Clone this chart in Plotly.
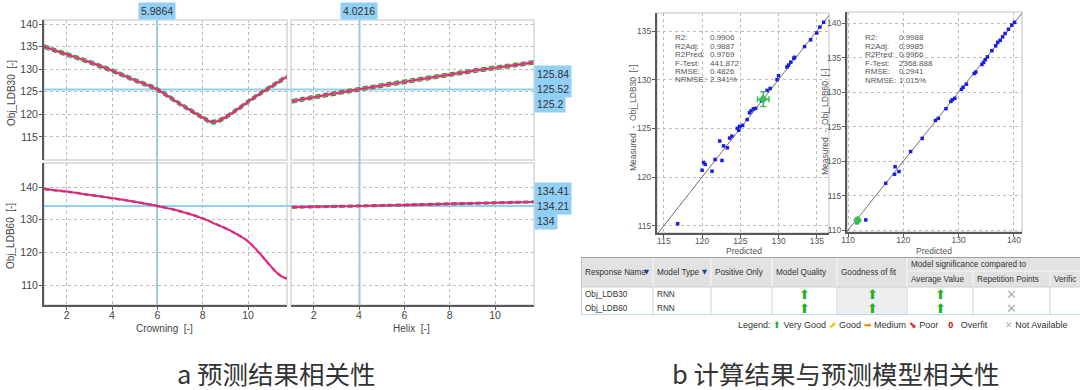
import plotly.graph_objects as go

W, H = 1080, 390

# ---------------- data ----------------
crown_x30 = [1.0, 2, 3, 4, 5, 6, 7, 7.5, 8, 8.4, 8.8, 9.5, 10, 10.5, 11, 11.7]
ldb30_crown = [135.0, 133.3, 131.6, 129.7, 127.6, 125.5, 122.3, 120.8, 119.3, 118.3, 118.8, 121.0, 122.8, 124.5, 126.1, 128.3]
helix_x30 = [1.03, 2, 3, 4, 5, 6, 7, 8, 9, 10, 11, 11.7]
ldb30_helix = [122.9, 123.8, 124.7, 125.55, 126.4, 127.2, 128.0, 128.8, 129.6, 130.3, 131.0, 131.5]
crown_x60 = [1.0, 2, 3, 4, 5, 6, 7, 8, 8.5, 9, 9.5, 10, 10.5, 11, 11.3, 11.5, 11.7]
ldb60_crown = [139.4, 138.6, 137.6, 136.6, 135.5, 134.2, 132.6, 130.4, 128.9, 127.4, 125.6, 123.4, 119.8, 115.8, 113.6, 112.6, 112.0]
helix_x60 = [1.03, 2, 4, 6, 8, 10, 11.7]
ldb60_helix = [133.8, 133.95, 134.21, 134.5, 134.85, 135.15, 135.45]
band30 = 0.4
band60_crown = 0.2
band60_helix = 0.3

crown_cursor = 5.9864
helix_cursor = 4.0216
ldb30_cursor = [125.84, 125.52, 125.2]
ldb60_cursor = [134.41, 134.21, 134]

pred30 = [116.8, 120.0, 120.2, 120.4, 121.3, 121.7, 122.3, 122.6, 122.8, 123.3, 123.6, 123.9, 124.6, 124.8,
          124.9, 125.3, 125.9, 126.2, 126.4, 126.7, 127.0, 127.75, 128.5, 128.9, 129.8, 130.0, 131.1, 131.3,
          131.6, 132.0, 132.1, 133.4, 134.2, 135.0, 135.4, 135.9]
meas30 = [115.2, 120.7, 121.5, 121.3, 120.6, 121.8, 123.7, 121.7, 123.2, 123.0, 124.0, 124.2, 125.0, 124.8,
          125.2, 125.3, 125.9, 126.6, 126.8, 127.0, 127.05, 127.85, 128.9, 129.1, 130.0, 130.4, 131.3, 131.5,
          131.8, 132.2, 132.3, 133.4, 134.1, 134.8, 135.4, 135.9]
center30 = (128.0, 128.0)
err30 = 0.75

pred60 = [111.6, 113.2, 116.8, 118.4, 118.5, 119.2, 121.3, 123.4, 125.8, 126.3, 127.7, 128.6, 128.85, 129.3,
          130.5, 130.8, 131.4, 132.8, 133.1, 134.2, 134.5, 134.8, 135.2, 136.0, 136.7, 137.05, 137.5, 137.95,
          138.4, 139.0, 139.6, 140.1]
meas60 = [111.1, 111.5, 116.8, 118.1, 119.2, 118.5, 121.4, 123.3, 125.9, 126.2, 127.6, 128.65, 128.9, 129.1,
          130.4, 130.7, 131.15, 132.7, 132.9, 134.0, 134.3, 134.7, 135.1, 136.0, 136.7, 137.2, 137.5, 138.0,
          138.5, 139.1, 139.7, 140.1]
center60 = (111.7, 111.45)
err60 = 0.3

stat_names = ["R2:", "R2Adj:", "R2Pred:", "F-Test:", "RMSE:", "NRMSE:"]
stats30 = ["0.9906", "0.9887", "0.9769", "441.872", "0.4826", "2.341%"]
stats60 = ["0.9988", "0.9985", "0.9966", "2368.888", "0.2941", "1.015%"]

tbl_headers = ["Response Name", "Model Type", "Positive Only", "Model Quality", "Goodness of fit"]
tbl_sortable = [True, True, False, False, False]
tbl_group = "Model significance compared to"
tbl_subheaders = ["Average Value", "Repetition Points", "Verific"]
resp_names = ["Obj_LDB30", "Obj_LDB60"]
model_types = ["RNN", "RNN"]
positive_only = ["", ""]
model_quality = ["Very Good", "Very Good"]
goodness_fit = ["Very Good", "Very Good"]
avg_value = ["Very Good", "Very Good"]
rep_points = ["Not Available", "Not Available"]
verif_points = ["", ""]

caption_a = "a 预测结果相关性"
caption_b = "b 计算结果与预测模型相关性"

# ---------------- helpers ----------------
def px(v):
    return v / W

def py(v):
    return 1 - v / H

MAG = '#f0208a'
GRN = '#3f8f35'
BANDC = 'rgba(125,200,95,0.6)'
CUR = '#92cff5'
AX = '#5a5a5a'
FRAME = '#d6d6d6'
GRID = '#bdbdbd'
BLUE = '#1c1ce6'

fig = go.Figure()

def curve(xs, ys, ci, xa, ya):
    lo = [v - ci for v in ys]
    up = [v + ci for v in ys]
    fig.add_trace(go.Scatter(x=xs, y=lo, mode='lines', xaxis=xa, yaxis=ya,
                             line=dict(color=GRN, width=1.2, dash='5px,3px', shape='spline'),
                             showlegend=False, hoverinfo='skip'))
    fig.add_trace(go.Scatter(x=xs, y=up, mode='lines', xaxis=xa, yaxis=ya, fill='tonexty', fillcolor=BANDC,
                             line=dict(color=GRN, width=1.2, dash='5px,3px', shape='spline'),
                             showlegend=False, hoverinfo='skip'))
    fig.add_trace(go.Scatter(x=xs, y=ys, mode='lines', xaxis=xa, yaxis=ya,
                             line=dict(color=MAG, width=2, shape='spline'),
                             showlegend=False, hoverinfo='skip'))

curve(crown_x30, ldb30_crown, band30, 'x', 'y')
curve(helix_x30, ldb30_helix, band30, 'x2', 'y2')
curve(crown_x60, ldb60_crown, band60_crown, 'x3', 'y3')
curve(helix_x60, ldb60_helix, band60_helix, 'x4', 'y4')

# scatter plots
for xa, ya, pr, me, c, e in [('x5', 'y5', pred30, meas30, center30, err30),
                             ('x6', 'y6', pred60, meas60, center60, err60)]:
    fig.add_trace(go.Scatter(x=[105, 145], y=[105, 145], mode='lines', xaxis=xa, yaxis=ya,
                             line=dict(color='#707070', width=1), showlegend=False, hoverinfo='skip'))
    fig.add_trace(go.Scatter(x=pr, y=me, mode='markers', xaxis=xa, yaxis=ya,
                             marker=dict(color=BLUE, size=3.5, symbol='square'), showlegend=False))
    fig.add_trace(go.Scatter(x=[c[0]], y=[c[1]], mode='markers', xaxis=xa, yaxis=ya,
                             marker=dict(color='#3cbf5a', size=7, symbol='diamond'),
                             error_x=dict(type='constant', value=e, color='#3cbf5a', thickness=1.5, width=3),
                             error_y=dict(type='constant', value=e, color='#3cbf5a', thickness=1.5, width=3),
                             showlegend=False))

# ---------------- axes ----------------
tickfont = dict(family='Liberation Sans', size=10.5, color='#444')
small_tick = dict(family='Liberation Sans', size=8.5, color='#555')

def axis(domain, rng, tickvals, showlabels, dark, anchor, font=tickfont, standoff=0):
    d = dict(domain=domain, range=rng, tickvals=tickvals, showticklabels=showlabels, automargin=False,
             showgrid=True, gridcolor=GRID, griddash='dot', gridwidth=1, zeroline=False,
             anchor=anchor, tickfont=font, fixedrange=True, ticklabelstandoff=standoff)
    if dark:
        d.update(showline=True, linecolor=AX, linewidth=2, ticks='outside', ticklen=3, tickcolor=AX, tickwidth=1)
    else:
        d.update(showline=False, ticks='')
    return d

xl = [px(44), px(287)]
xr = [px(291), px(534)]
yt = [py(160), py(20)]
yb = [py(305), py(163)]
xr_rng = [1.0, 11.72]
y30_rng = [109.9, 140.9]
y60_rng = [103.9, 147.35]
xt = [2, 4, 6, 8, 10]

fig.update_layout(
    xaxis=axis(xl, xr_rng, xt, False, False, 'y'),
    yaxis=axis(yt, y30_rng, [115, 120, 125, 130, 135, 140], True, True, 'x', standoff=-1),
    xaxis2=axis(xr, xr_rng, xt, False, False, 'y2'),
    yaxis2=axis(yt, y30_rng, [115, 120, 125, 130, 135, 140], False, False, 'x2'),
    xaxis3=axis(xl, xr_rng, xt, True, True, 'y3', standoff=-4),
    yaxis3=axis(yb, y60_rng, [110, 120, 130, 140], True, True, 'x3', standoff=-1),
    xaxis4=axis(xr, xr_rng, xt, True, True, 'y4', standoff=-4),
    yaxis4=axis(yb, y60_rng, [110, 120, 130, 140], False, False, 'x4'),
    xaxis5=axis([px(657), px(829)], [114.1, 136.6], [115, 120, 125, 130, 135], True, True, 'y5', small_tick, -4),
    yaxis5=axis([py(233), py(13)], [114.25, 136.85], [115, 120, 125, 130, 135], True, True, 'x5', small_tick, -1),
    xaxis6=axis([px(847), px(1022)], [109.8, 141.45], [110, 120, 130, 140], True, True, 'y6', small_tick, -4),
    yaxis6=axis([py(232), py(12)], [109.75, 141.6], [110, 115, 120, 125, 130, 135, 140], True, True, 'x6', small_tick, -1),
    xaxis7=dict(domain=[px(581), 1.0], range=[581, 1080], visible=False, fixedrange=True, anchor='y7', automargin=False),
    yaxis7=dict(domain=[py(315), py(257)], range=[315, 257], visible=False, fixedrange=True, anchor='x7', automargin=False),
)

shapes = []
anns = []

# frames
for xa, ya in [('x', 'y'), ('x2', 'y2'), ('x3', 'y3'), ('x4', 'y4'), ('x5', 'y5'), ('x6', 'y6')]:
    shapes.append(dict(type='rect', xref=f'{xa} domain', yref=f'{ya} domain', x0=0, x1=1, y0=0, y1=1,
                       line=dict(color=FRAME, width=1.5), layer='below'))

# crosshair
shapes.append(dict(type='line', xref='x', yref='paper', x0=crown_cursor, x1=crown_cursor, y0=py(305), y1=py(20),
                   line=dict(color=CUR, width=2), layer='between'))
shapes.append(dict(type='line', xref='x2', yref='paper', x0=helix_cursor, x1=helix_cursor, y0=py(305), y1=py(20),
                   line=dict(color=CUR, width=2), layer='between'))
shapes.append(dict(type='line', xref='paper', yref='y', x0=px(44), x1=px(534), y0=ldb30_cursor[1], y1=ldb30_cursor[1],
                   line=dict(color=CUR, width=2), layer='between'))
shapes.append(dict(type='line', xref='paper', yref='y3', x0=px(44), x1=px(534), y0=ldb60_cursor[1], y1=ldb60_cursor[1],
                   line=dict(color=CUR, width=2), layer='between'))

lblfont = dict(family='Liberation Sans', size=10.5, color='#333')
for xref, xv in [('x', crown_cursor), ('x2', helix_cursor)]:
    anns.append(dict(xref=xref, yref='paper', x=xv, y=py(11), text=f'{xv:.4f}', showarrow=False,
                     bgcolor=CUR, font=lblfont, borderpad=2, xanchor='center', yanchor='middle'))
for yref, vals in [('y', ldb30_cursor), ('y3', ldb60_cursor)]:
    for i, v in enumerate(vals):
        anns.append(dict(xref='paper', yref=yref, x=px(534), y=vals[1], yshift=(1 - i) * 15,
                         text=f'{v:g}', showarrow=False, bgcolor=CUR, font=lblfont, borderpad=2,
                         xanchor='left', yanchor='middle'))

def ctext(x, y, text, font, angle=0, xa='center'):
    return dict(xref='paper', yref='paper', x=px(x), y=py(y), text=text, textangle=angle,
                showarrow=False, font=font, xanchor=xa, yanchor='middle')

# axis titles (left)
ttl = dict(family='Liberation Sans', size=10, color='#444')
anns.append(ctext(11, 93, 'Obj_LDB30  [-]', ttl, -90))
anns.append(ctext(11, 236, 'Obj_LDB60  [-]', ttl, -90))
anns.append(ctext(164, 328, 'Crowning  [-]', ttl))
anns.append(ctext(411, 328, 'Helix  [-]', ttl))

# scatter titles
st = dict(family='Liberation Sans', size=8.5, color='#555')
anns.append(ctext(633, 118, 'Measured  -  Obj_LDB30  [-]', st, -90))
anns.append(ctext(825, 122, 'Measured  -  Obj_LDB60  [-]', st, -90))
anns.append(ctext(744, 250.5, 'Predicted', st))
anns.append(ctext(934, 250.5, 'Predicted', st))

sfont = dict(family='Liberation Sans', size=8, color='#555')
for lx, vx, y0, dy, vals in [(673, 708, 38, 8.4, stats30), (863, 897, 37.5, 8.6, stats60)]:
    for i, (n, v) in enumerate(zip(stat_names, vals)):
        anns.append(ctext(lx, y0 + i * dy, n, sfont, xa='left'))
        anns.append(ctext(vx, y0 + i * dy, v, sfont, xa='left'))

# ---------------- table ----------------
col_edges = [581, 653, 711, 772, 837, 907, 973, 1050, 1130]
r_top, r_mid, r_head, r1, r2 = 257, 271, 287, 301, 315
tfont = dict(family='Liberation Sans', size=8.2, color='#333')
T = dict(xref='x7', yref='y7')

shapes.append(dict(type='rect', x0=col_edges[0], x1=col_edges[-1], y0=r_top, y1=r_head,
                   fillcolor='#e2e2e2', line=dict(width=0), **T))
shapes.append(dict(type='rect', x0=col_edges[4], x1=col_edges[5], y0=r_head, y1=r2,
                   fillcolor='#eeeeee', line=dict(width=0), **T))
for e in col_edges[1:-1]:
    top = r_mid if e in col_edges[6:8] else r_top
    shapes.append(dict(type='line', x0=e, x1=e, y0=top, y1=r_head, line=dict(color='#f8f8f8', width=1), **T))
    shapes.append(dict(type='line', x0=e, x1=e, y0=r_head, y1=r2, line=dict(color='#d4d4d4', width=1), **T))
shapes.append(dict(type='line', x0=col_edges[5], x1=col_edges[-1], y0=r_mid, y1=r_mid,
                   line=dict(color='#f8f8f8', width=1), **T))
shapes.append(dict(type='line', x0=col_edges[0], x1=col_edges[-1], y0=r_top, y1=r_top,
                   line=dict(color='#8a8a8a', width=1.5), **T))
shapes.append(dict(type='line', x0=col_edges[0], x1=col_edges[0], y0=r_top, y1=r2,
                   line=dict(color='#a0a0a0', width=1), **T))
shapes.append(dict(type='line', x0=col_edges[0], x1=col_edges[-1], y0=r_head, y1=r_head,
                   line=dict(color='#d0d0d0', width=1), **T))
shapes.append(dict(type='line', x0=col_edges[0], x1=col_edges[-1], y0=r2, y1=r2,
                   line=dict(color='#a9d3f0', width=1.5), **T))

for i, t in enumerate(tbl_headers):
    anns.append(dict(x=col_edges[i] + 2, y=(r_top + r_head) / 2, text=t, showarrow=False,
                     xanchor='left', yanchor='middle', font=tfont, **T))
    if tbl_sortable[i]:
        anns.append(dict(x=col_edges[i + 1] - 2, y=(r_top + r_head) / 2, text='▼', showarrow=False,
                         xanchor='right', yanchor='middle',
                         font=dict(family='DejaVu Sans', size=6.5, color='#1c3a9c'), **T))
anns.append(dict(x=col_edges[5] + 2, y=(r_top + r_mid) / 2, text=tbl_group, showarrow=False,
                 xanchor='left', yanchor='middle', font=tfont, **T))
for i, t in enumerate(tbl_subheaders):
    anns.append(dict(x=col_edges[5 + i] + 2, y=(r_mid + r_head) / 2, text=t, showarrow=False,
                     xanchor='left', yanchor='middle', font=tfont, **T))

glyph = {'Very Good': ('⬆', '#22b022'), 'Good': ('⬈', '#f0c800'), 'Medium': ('➡', '#f08c00'),
         'Poor': ('⬊', '#e02020'), 'Not Available': ('✕', '#b0b0b0'), '': ('', '#000')}
row_y = [(r_head + r1) / 2, (r1 + r2) / 2]
for r in range(2):
    anns.append(dict(x=col_edges[0] + 2, y=row_y[r], text=resp_names[r], showarrow=False,
                     xanchor='left', yanchor='middle', font=tfont, **T))
    anns.append(dict(x=col_edges[1] + 2, y=row_y[r], text=model_types[r], showarrow=False,
                     xanchor='left', yanchor='middle', font=tfont, **T))
    if positive_only[r]:
        anns.append(dict(x=col_edges[2] + 2, y=row_y[r], text=positive_only[r], showarrow=False,
                         xanchor='left', yanchor='middle', font=tfont, **T))
    for ci, colv in zip([3, 4, 5, 6, 7], [model_quality, goodness_fit, avg_value, rep_points, verif_points]):
        g, c = glyph[colv[r]]
        if g:
            anns.append(dict(x=(col_edges[ci] + col_edges[ci + 1]) / 2, y=row_y[r], text=g, showarrow=False,
                             xanchor='center', yanchor='middle',
                             font=dict(family='DejaVu Sans', size=13, color=c), **T))

legend_txt = ("Legend: <span style='color:#22b022'>⬆</span> Very Good "
              "<span style='color:#f0c800'>⬈</span> Good "
              "<span style='color:#f08c00'>➡</span> Medium "
              "<span style='color:#e02020'>⬊</span> Poor    "
              "<span style='color:#d00000'><b>0</b></span>   Overfit       "
              "<span style='color:#b0b0b0'>✕</span> Not Available")
anns.append(ctext(1070, 325, legend_txt, dict(family='Liberation Sans', size=9, color='#333'), xa='right'))

# captions
capf = dict(family='Noto Sans CJK SC', size=25.5, color='#333')
anns.append(ctext(276, 372, caption_a, capf))
anns.append(ctext(835, 372, caption_b, capf))

fig.update_layout(width=W, height=H, margin=dict(l=0, r=0, t=0, b=0), paper_bgcolor='white',
                  plot_bgcolor='white', shapes=shapes, annotations=anns, showlegend=False,
                  font=dict(family='Liberation Sans'))

fig.write_html('out.html', config={'displayModeBar': False},
               post_script="document.body.style.margin='0';document.body.style.overflow='hidden';")
